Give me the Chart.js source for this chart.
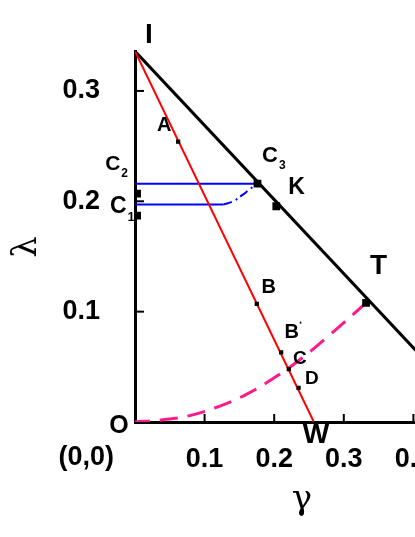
<!DOCTYPE html>
<html>
<head>
<meta charset="utf-8">
<script src="https://cdn.jsdelivr.net/npm/chart.js@4"></script>
<style>
  html, body { margin: 0; padding: 0; background: #fff; overflow: hidden; }
  #wrap { width: 500px; height: 537px; }
</style>
</head>
<body>
<div id="wrap"><canvas id="phase-chart" width="500" height="537"></canvas></div>
<script>
// tick values
const gammaTicks = [0.1, 0.2, 0.3, 0.4];
const lambdaTicks = [0.1, 0.2, 0.3];

// black line I -> (0.5, 0) and red line I -> W
const blackGamma = [0, 0.5];
const blackLambda = [0.336, 0];
const redGamma = [0, 0.257];
const redLambda = [0.336, 0];

// blue lines from the lambda axis
const blueUpGamma = [0, 0.176];
const blueUpLambda = [0.216, 0.216];
const blueLowGamma = [0, 0.127];
const blueLowLambda = [0.197, 0.197];
const blueCurveGamma = [0.127, 0.141, 0.155, 0.165, 0.176];
const blueCurveLambda = [0.197, 0.200, 0.206, 0.211, 0.216];

// pink dashed curve O -> T
const pinkGamma = [0, 0.04, 0.08, 0.12, 0.16, 0.20, 0.24, 0.28, 0.332];
const pinkLambda = [0, 0.002, 0.006, 0.014, 0.025, 0.040, 0.058, 0.079, 0.108];

// small markers on the red line: A, B, B', C, D
const smallGamma = [0.062, 0.175, 0.210, 0.221, 0.235];
const smallLambda = [0.254, 0.107, 0.063, 0.048, 0.031];
// big markers: C3, K, T and the two on the axis
const bigGamma = [0.176, 0.203, 0.332, 0.003, 0.003];
const bigLambda = [0.216, 0.1955, 0.108, 0.207, 0.187];

const zip = (xs, ys) => xs.map((v, i) => ({ x: v, y: ys[i] }));

// text labels, in data coordinates
const labels = [
  { t: 'I', g: 0.020, l: 0.350, size: 28 },
  { t: 'A', g: 0.042, l: 0.269, size: 20 },
  { t: 'C', sub: '2', g: -0.032, l: 0.234, size: 21 },
  { t: 'C', sub: '1', g: -0.024, l: 0.195, size: 23 },
  { t: 'C', sub: '3', g: 0.194, l: 0.241, size: 22 },
  { t: 'K', g: 0.232, l: 0.212, size: 23 },
  { t: 'T', g: 0.350, l: 0.141, size: 28 },
  { t: 'B', g: 0.192, l: 0.122, size: 20 },
  { t: 'B', g: 0.225, l: 0.081, size: 20, prime: true },
  { t: 'C', g: 0.237, l: 0.057, size: 19 },
  { t: 'D', g: 0.254, l: 0.039, size: 19 },
  { t: 'O', g: -0.023, l: -0.004, size: 25 },
  { t: 'W', g: 0.260, l: -0.012, size: 28 },
  { t: '(0,0)', g: -0.070, l: -0.032, size: 27 },
];

const fontFam = '"Liberation Sans", Arial, sans-serif';

const diagramText = {
  id: 'diagramText',
  afterDraw(chart) {
    const { ctx, chartArea } = chart;
    const x = chart.scales.x, y = chart.scales.y;
    ctx.save();
    // inward tick marks
    ctx.strokeStyle = '#000';
    ctx.lineWidth = 2;
    gammaTicks.forEach(v => {
      const px = x.getPixelForValue(v);
      ctx.beginPath();
      ctx.moveTo(px, chartArea.bottom);
      ctx.lineTo(px, chartArea.bottom - 8);
      ctx.stroke();
    });
    lambdaTicks.forEach(v => {
      const py = y.getPixelForValue(v);
      ctx.beginPath();
      ctx.moveTo(chartArea.left, py);
      ctx.lineTo(chartArea.left + 9, py);
      ctx.stroke();
    });

    ctx.fillStyle = '#000';
    ctx.textBaseline = 'middle';
    labels.forEach(lb => {
      const px = x.getPixelForValue(lb.g);
      const py = y.getPixelForValue(lb.l);
      ctx.font = `bold ${lb.size}px ${fontFam}`;
      ctx.textAlign = 'center';
      ctx.fillText(lb.t, px, py);
      const w = ctx.measureText(lb.t).width;
      if (lb.sub) {
        ctx.font = `bold ${Math.round(lb.size * 0.55)}px ${fontFam}`;
        ctx.textAlign = 'left';
        ctx.fillText(lb.sub, px + w / 2 + 1, py + lb.size * 0.45);
      }
      if (lb.prime) {
        ctx.fillRect(px + w / 2 + 1, py - lb.size * 0.55, 1.5, 2);
      }
    });

    // axis titles
    ctx.textAlign = 'center';
    ctx.font = `34px "DejaVu Serif", serif`;
    ctx.fillText('γ', 302, 500);
    ctx.translate(27, 247);
    ctx.rotate(-Math.PI / 2);
    ctx.font = `34px "DejaVu Serif", serif`;
    ctx.fillText('λ', 0, 0);
    ctx.restore();
  }
};

const ctx = document.getElementById('phase-chart');

new Chart(ctx, {
  type: 'scatter',
  data: {
    datasets: [
      {
        label: 'small points',
        data: zip(smallGamma, smallLambda),
        showLine: false,
        pointStyle: 'rect',
        pointRadius: 3,
        backgroundColor: '#000',
        borderColor: '#000',
        borderWidth: 0,
        order: 0,
      },
      {
        label: 'big points',
        data: zip(bigGamma, bigLambda),
        showLine: false,
        pointStyle: 'rect',
        pointRadius: 5.5,
        backgroundColor: '#000',
        borderColor: '#000',
        borderWidth: 0,
        order: 0,
      },
      {
        label: 'IW',
        data: zip(redGamma, redLambda),
        showLine: true,
        borderColor: '#ff0000',
        borderWidth: 2,
        pointRadius: 0,
        order: 1,
      },
      {
        label: 'black',
        data: zip(blackGamma, blackLambda),
        showLine: true,
        borderColor: '#000',
        borderWidth: 3,
        pointRadius: 0,
        order: 2,
      },
      {
        label: 'blue up',
        data: zip(blueUpGamma, blueUpLambda),
        showLine: true,
        borderColor: '#0000ff',
        borderWidth: 2,
        pointRadius: 0,
        order: 3,
      },
      {
        label: 'blue low',
        data: zip(blueLowGamma, blueLowLambda),
        showLine: true,
        borderColor: '#0000ff',
        borderWidth: 2,
        pointRadius: 0,
        order: 3,
      },
      {
        label: 'blue curve',
        data: zip(blueCurveGamma, blueCurveLambda),
        showLine: true,
        borderColor: '#0000ff',
        borderWidth: 2,
        borderDash: [9, 4, 2, 4],
        tension: 0.4,
        pointRadius: 0,
        order: 3,
      },
      {
        label: 'pink',
        data: zip(pinkGamma, pinkLambda),
        showLine: true,
        borderColor: '#ff1a8c',
        borderWidth: 3,
        borderDash: [18, 10],
        borderDashOffset: 3,
        tension: 0.4,
        pointRadius: 0,
        order: 4,
      },
    ],
  },
  options: {
    responsive: false,
    animation: false,
    devicePixelRatio: 1,
    layout: { padding: { top: 49, right: 17, left: 0, bottom: 0 } },
    plugins: {
      legend: { display: false },
      tooltip: { enabled: false },
    },
    scales: {
      x: {
        type: 'linear',
        min: 0,
        max: 0.5,
        afterFit: s => { s.height = 115; },
        afterBuildTicks: s => { s.ticks = gammaTicks.map(v => ({ value: v })); },
        grid: { display: false, drawTicks: false },
        border: { display: true, color: '#000', width: 3 },
        ticks: {
          padding: 21,
          color: '#000',
          font: { family: fontFam, size: 27, weight: 'bold' },
          callback: v => v.toFixed(1),
        },
      },
      y: {
        type: 'linear',
        min: 0,
        max: 0.336,
        afterFit: s => { s.width = 135; },
        afterBuildTicks: s => { s.ticks = lambdaTicks.map(v => ({ value: v })); },
        grid: { display: false, drawTicks: false },
        border: { display: true, color: '#000', width: 3 },
        ticks: {
          padding: 35,
          color: '#000',
          font: { family: fontFam, size: 27, weight: 'bold' },
          callback: v => v.toFixed(1),
        },
      },
    },
  },
  plugins: [diagramText],
});
</script>
</body>
</html>
